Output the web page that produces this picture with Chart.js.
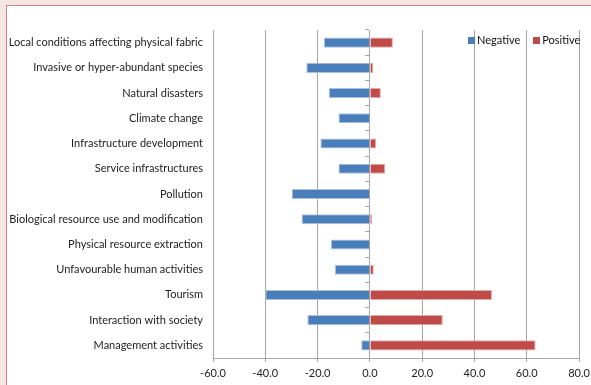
<!DOCTYPE html>
<html>
<head>
<meta charset="utf-8">
<script src="https://cdn.jsdelivr.net/npm/chart.js@4"></script>
<style>
  body { margin: 0; background: #f5e6e4; overflow: hidden; }
  #frame {
    position: absolute; left: 6px; top: 5px;
    width: 620px; height: 420px;
    background: #ffffff; border: 1px solid #d4827f;
  }
  #wrap { position: absolute; left: 0; top: 0; width: 600px; height: 379px; }
  #legend {
    position: absolute; left: 461px; top: 27px;
    font: 11px Lato, sans-serif; color: #111;
    display: flex; gap: 13px; white-space: nowrap;
  }
  #legend span.sw { display: inline-block; width: 7px; height: 7px; margin-right: 2px; }
</style>
</head>
<body>
<div id="frame">
  <div id="wrap"><canvas id="threatChart"></canvas></div>
  <div id="legend"></div>
</div>
<script>
// ----- Data -----
const categories = [
    'Local conditions affecting physical fabric',
    'Invasive or hyper-abundant species',
    'Natural disasters',
    'Climate change',
    'Infrastructure development',
    'Service infrastructures',
    'Pollution',
    'Biological resource use and modification',
    'Physical resource extraction',
    'Unfavourable human activities',
    'Tourism',
    'Interaction with society',
    'Management activities'
];
const negativeValues = [-17.6, -24.3, -15.7, -12.0, -18.9, -12.0, -29.9, -26.1, -14.9, -13.4, -40.0, -23.9, -3.3];
const positiveValues = [8.8, 1.3, 4.2, 0, 2.4, 5.9, 0, 0.9, 0, 1.5, 46.7, 27.9, 63.4];
const xMin = -60, xMax = 80, xStep = 20;

const gridGrey = '#a6a6a6';
const labelFont = { family: "Lato, 'Liberation Sans', sans-serif", size: 11 };

Chart.defaults.color = '#222222';
Chart.defaults.font = labelFont;

const ctx = document.getElementById('threatChart').getContext('2d');
const chart = new Chart(ctx, {
    type: 'bar',
    data: {
        labels: categories,
        datasets: [{
            label: 'Negative',
            data: negativeValues,
            backgroundColor: '#4a7ebb',
            borderColor: '#a9c2e4',
            borderWidth: 1,
            barPercentage: 0.8,
            categoryPercentage: 0.5
        }, {
            label: 'Positive',
            data: positiveValues,
            backgroundColor: '#be4b48',
            borderColor: '#e3a9a7',
            borderWidth: 1,
            barPercentage: 0.8,
            categoryPercentage: 0.5
        }]
    },
    options: {
        indexAxis: 'y',
        responsive: true,
        maintainAspectRatio: false,
        animation: false,
        layout: { padding: { left: 0, right: 28, top: 24, bottom: 0 } },
        plugins: {
            tooltip: { enabled: false },
            legend: { display: false }
        },
        scales: {
            x: {
                stacked: true,
                min: xMin,
                max: xMax,
                ticks: {
                    stepSize: xStep,
                    padding: 5,
                    callback: function (value) { return value.toFixed(1); }
                },
                grid: { color: gridGrey, tickLength: 4 },
                border: { color: gridGrey },
                afterFit: function (scale) { scale.height = 27; }
            },
            y: {
                stacked: true,
                ticks: { padding: 2, autoSkip: false, color: '#222222' },
                grid: { display: false },
                border: { display: false },
                afterFit: function (scale) { scale.width = 206; }
            },
            // category axis crossing at zero, like the original
            y2: {
                type: 'category',
                axis: 'y',
                position: { x: 0 },
                offset: true,
                ticks: { display: false },
                grid: { drawOnChartArea: false, offset: true, tickLength: 4, color: gridGrey },
                border: { color: gridGrey },
                afterFit: function (scale) { scale.width = 0; }
            }
        }
    }
});

// ----- Legend (top right, inside plot like the original) -----
const legendEl = document.getElementById('legend');
chart.data.datasets.forEach(function (ds) {
    const item = document.createElement('div');
    const sw = document.createElement('span');
    sw.className = 'sw';
    sw.style.backgroundColor = ds.backgroundColor;
    item.appendChild(sw);
    item.appendChild(document.createTextNode(ds.label));
    legendEl.appendChild(item);
});
</script>
</body>
</html>
